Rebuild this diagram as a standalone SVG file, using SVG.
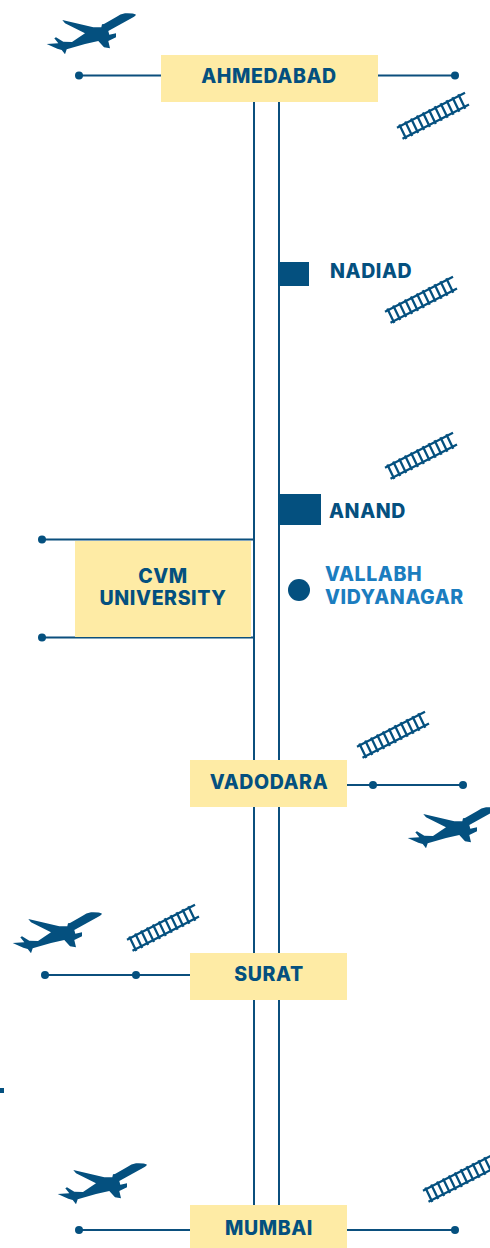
<svg xmlns="http://www.w3.org/2000/svg" width="490" height="1248" viewBox="0 0 490 1248">
<style>
.l{stroke:#0b4f7d;stroke-width:2;fill:none}
.b{fill:#feeba5}
.d{fill:#04507f}
.t{font-family:"Inter","Liberation Sans",sans-serif;font-weight:800;font-size:19.500px;letter-spacing:.6px;fill:#04507f;text-anchor:middle}
.n{text-anchor:start}
.v{fill:#1b7dbf;text-anchor:start}
.r{stroke:#04507f;fill:none;stroke-width:2.300}
</style>
<defs>
<path id="plane" d="M136 14.700Q133 13 125 13.300Q120 14 116.700 16.700L104 24L102 24.300L101.300 27.300L93.300 27.300L62.300 20L65 23.300L85 33.300L72 42L63.300 41.700L56 37.300L54.300 38.300L58.300 43.300L46.700 44L57.300 48.700L61.700 50L65 54.300L66.700 49.300L85 44L98.300 41L104 47.300L110 48.300L108.300 41L116 37.300L116 33.300L109.300 34.700L108.300 31L130 19Q135 16.500 136 14.700Z"/>
<g id="track" class="r">
<path d="M397 127.800L465 92.800M402.500 138.800L469 104.600"/>
<path d="M399.300 124.500l7 14.500M405.200 121.500l7 14.500M411.100 118.400l7 14.500M417 115.400l7 14.500M422.900 112.400l7 14.500M428.800 109.400l7 14.500M434.700 106.300l7 14.500M440.600 103.300l7 14.500M446.500 100.300l7 14.500M452.400 97.200l7 14.500M458.300 94.200l7 14.500"/>
</g>
</defs>
<g id="connectors">
<path class="l" d="M254 100V1206M279 100V1206"/>
<path class="l" d="M79 75.500H161M378 75.500H455"/>
<path class="l" d="M42 539.500H254M42 637.500H254"/>
<path class="l" d="M347 785H463"/>
<path class="l" d="M45 975H190"/>
<path class="l" d="M79 1230H190M347 1230H455"/>
<g class="d">
<circle cx="79" cy="75.500" r="4"/><circle cx="455" cy="75.500" r="4"/>
<circle cx="42" cy="539.500" r="4"/><circle cx="42" cy="637.500" r="4"/>
<circle cx="373" cy="785" r="4"/><circle cx="463" cy="785" r="4"/>
<circle cx="45" cy="975" r="4"/><circle cx="136" cy="975" r="4"/>
<circle cx="79" cy="1230" r="4"/><circle cx="455" cy="1230" r="4"/>
</g>
</g>
<g id="icons" class="d">
<use href="#plane"/>
<use href="#plane" x="361" y="794"/>
<use href="#plane" x="-34" y="899"/>
<use href="#plane" x="11" y="1150"/>
<use href="#track"/>
<use href="#track" x="-12" y="184"/>
<use href="#track" x="-12" y="340"/>
<use href="#track" x="-40" y="619"/>
<use href="#track" x="-270" y="812"/>
<use href="#track" x="26" y="1063"/>
<rect x="0" y="1088" width="4" height="5"/>
</g>
<g id="ahmedabad"><rect class="b" x="161" y="55" width="217" height="47"/><text class="t" x="269" y="82.500">AHMEDABAD</text></g>
<g id="nadiad"><rect class="d" x="278" y="262" width="31" height="24"/><text class="t n" x="330" y="278">NADIAD</text></g>
<g id="anand"><rect class="d" x="278" y="494" width="43" height="31"/><text class="t n" x="329" y="517.500">ANAND</text></g>
<g id="vallabh"><circle class="d" cx="299" cy="590" r="11"/><text class="t v" x="325" y="580.500">VALLABH</text><text class="t v" x="325" y="603.500">VIDYANAGAR</text></g>
<g id="cvm"><rect class="b" x="75" y="541" width="176" height="96"/><text class="t" x="163" y="582.500">CVM</text><text class="t" x="163" y="604.500">UNIVERSITY</text></g>
<g id="vadodara"><rect class="b" x="190" y="760" width="157" height="47"/><text class="t" x="269" y="789">VADODARA</text></g>
<g id="surat"><rect class="b" x="190" y="953" width="157" height="47"/><text class="t" x="269" y="980.500">SURAT</text></g>
<g id="mumbai"><rect class="b" x="190" y="1205" width="157" height="43"/><text class="t" x="269" y="1234.500">MUMBAI</text></g>
</svg>
